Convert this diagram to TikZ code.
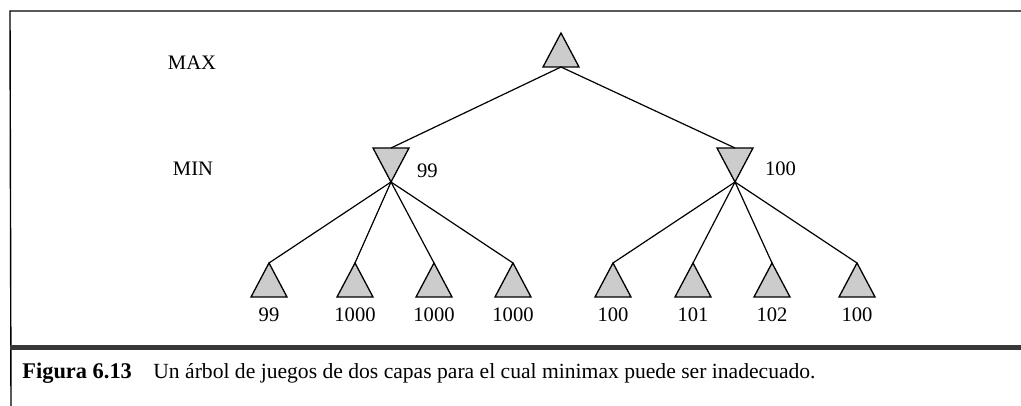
\documentclass[tikz,border=0pt]{standalone}
\usepackage{fontspec}
\setmainfont{Liberation Serif}
\tikzset{
  tri/.style={fill=black!20,draw=black,line width=0.65pt,line join=miter},
  edge/.style={line width=0.6pt},
  lbl/.style={font=\fontsize{10.3}{12}\selectfont},
  captxt/.style={font=\fontsize{10.8}{13}\selectfont,inner sep=0pt,anchor=base west},
  maxtri/.pic={
    \filldraw[tri] (0,0) -- (18,34) -- (-18,34) -- cycle;
    \coordinate (-tip) at (0,0);
    \coordinate (-base) at (0,34);
  },
  mintri/.pic={
    \filldraw[tri] (-18,0) -- (18,0) -- (0,34) -- cycle;
    \coordinate (-base) at (0,0);
    \coordinate (-tip) at (0,34);
  },
}
\begin{document}
\begin{tikzpicture}[x=0.5pt,y=-0.5pt]
\useasboundingbox (0,0) rectangle (1021,406);
% --- frame ---
\draw[line width=0.7pt] (11,406) -- (10,11) -- (1021,11);
\fill[black!78] (10,345) rectangle (1021,350);
% --- level labels ---
\node[lbl,anchor=base] (lblmax) at (192,70) {MAX};
\node[lbl,anchor=base] (lblmin) at (193,176) {MIN};
% --- tree ---
\pic (root) at (561,33) {maxtri};
\pic (mnA) at (391,148) {mintri};
\pic (mnB) at (735,148) {mintri};
\draw[edge] (root-base) -- (mnA-base);
\draw[edge] (root-base) -- (mnB-base);
\node[lbl,anchor=base west] (valA) at (410,178) {99};
\node[lbl,anchor=base west] (valB) at (758,176) {100};
\foreach \x/\v [count=\i] in {269/99,355/1000,434/1000,513/1000,613/100,693/101,772/102,857/100} {
  \pic (lf\i) at (\x,263) {maxtri};
  \node[lbl,anchor=base] (lfv\i) at (\x,321) {\v};
}
\foreach \i in {1,...,4} \draw[edge] (mnA-tip) -- (lf\i-tip);
\foreach \i in {5,...,8} \draw[edge] (mnB-tip) -- (lf\i-tip);
% --- caption ---
\node[captxt,font=\fontsize{11.2}{14}\selectfont] (capnum) at (22,378) {\textbf{Figura 6.13}};
\node[captxt] (captext) at (153,378) {Un árbol de juegos de dos capas para el cual minimax puede ser inadecuado.};
\end{tikzpicture}
\end{document}
